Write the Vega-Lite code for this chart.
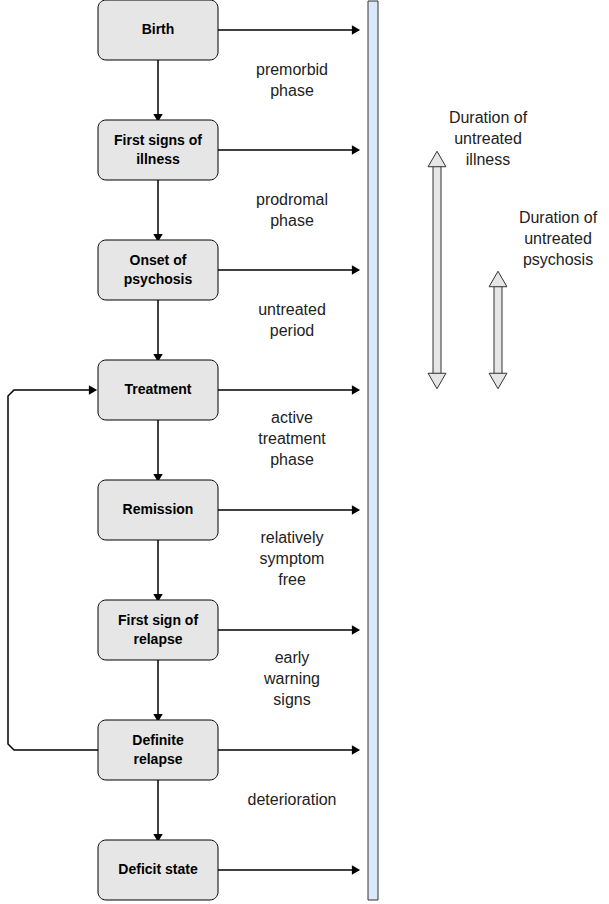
{
  "$schema": "https://vega.github.io/schema/vega-lite/v6.json",
  "width": 609,
  "height": 904,
  "padding": 0,
  "autosize": "none",
  "config": {"view": {"stroke": null}},
  "datasets": {
    "boxes": [
      {"label": "Birth", "cy": 30, "ty": 30},
      {"label": "First signs of\nillness", "cy": 150, "ty": 140.5},
      {"label": "Onset of\npsychosis", "cy": 270, "ty": 260.5},
      {"label": "Treatment", "cy": 390, "ty": 390},
      {"label": "Remission", "cy": 510, "ty": 510},
      {"label": "First sign of\nrelapse", "cy": 630, "ty": 620.5},
      {"label": "Definite\nrelapse", "cy": 750, "ty": 740.5},
      {"label": "Deficit state", "cy": 870, "ty": 870}
    ],
    "links": [
      {"x": 218, "y": 30, "x2": 356, "y2": 30, "dir": "right"},
      {"x": 218, "y": 150, "x2": 356, "y2": 150, "dir": "right"},
      {"x": 218, "y": 270, "x2": 356, "y2": 270, "dir": "right"},
      {"x": 218, "y": 390, "x2": 356, "y2": 390, "dir": "right"},
      {"x": 218, "y": 510, "x2": 356, "y2": 510, "dir": "right"},
      {"x": 218, "y": 630, "x2": 356, "y2": 630, "dir": "right"},
      {"x": 218, "y": 750, "x2": 356, "y2": 750, "dir": "right"},
      {"x": 218, "y": 870, "x2": 356, "y2": 870, "dir": "right"},
      {"x": 158, "y": 60, "x2": 158, "y2": 118, "dir": "down"},
      {"x": 158, "y": 180, "x2": 158, "y2": 238, "dir": "down"},
      {"x": 158, "y": 300, "x2": 158, "y2": 358, "dir": "down"},
      {"x": 158, "y": 420, "x2": 158, "y2": 478, "dir": "down"},
      {"x": 158, "y": 540, "x2": 158, "y2": 598, "dir": "down"},
      {"x": 158, "y": 660, "x2": 158, "y2": 718, "dir": "down"},
      {"x": 158, "y": 780, "x2": 158, "y2": 838, "dir": "down"}
    ],
    "loop": [
      {"x": 98, "y": 750, "o": 1},
      {"x": 14, "y": 750, "o": 2},
      {"x": 8, "y": 744, "o": 3},
      {"x": 8, "y": 396, "o": 4},
      {"x": 14, "y": 390, "o": 5},
      {"x": 92, "y": 390, "o": 6}
    ],
    "phases": [
      {"t": "premorbid\nphase", "y": 70},
      {"t": "prodromal\nphase", "y": 200},
      {"t": "untreated\nperiod", "y": 310},
      {"t": "active\ntreatment\nphase", "y": 418},
      {"t": "relatively\nsymptom\nfree", "y": 538},
      {"t": "early\nwarning\nsigns", "y": 658},
      {"t": "deterioration", "y": 800}
    ],
    "durations": [
      {"t": "Duration of\nuntreated\nillness", "x": 488, "y": 118},
      {"t": "Duration of\nuntreated\npsychosis", "x": 558, "y": 218}
    ],
    "shafts": [
      {"x": 433, "x2": 441, "y": 166, "y2": 374, "cx": 437, "top": 150, "bot": 390},
      {"x": 494, "x2": 502, "y": 286, "y2": 374, "cx": 498, "top": 270, "bot": 390}
    ]
  },
  "layer": [
    {
      "data": {"values": [{"x": 368, "x2": 378, "y": 1, "y2": 900}]},
      "mark": {"type": "rect", "fill": "#dae8fc", "stroke": "#333333", "strokeWidth": 1},
      "encoding": {
        "x": {"field": "x", "type": "quantitative", "scale": {"domain": [0, 609], "nice": false, "zero": false}, "axis": null},
        "x2": {"field": "x2"},
        "y": {"field": "y", "type": "quantitative", "scale": {"domain": [0, 904], "nice": false, "zero": false, "reverse": true}, "axis": null},
        "y2": {"field": "y2"}
      }
    },
    {
      "data": {"name": "links"},
      "mark": {"type": "rule", "color": "#000000", "strokeWidth": 1.5},
      "encoding": {
        "x": {"field": "x", "type": "quantitative"},
        "x2": {"field": "x2"},
        "y": {"field": "y", "type": "quantitative"},
        "y2": {"field": "y2"}
      }
    },
    {
      "data": {"name": "links"},
      "mark": {"type": "point", "filled": true, "color": "#000000", "size": 90, "opacity": 1},
      "encoding": {
        "x": {"field": "x2", "type": "quantitative"},
        "y": {"field": "y2", "type": "quantitative"},
        "shape": {"field": "dir", "type": "nominal", "scale": {"domain": ["right", "down"], "range": ["triangle-right", "triangle-down"]}, "legend": null}
      }
    },
    {
      "data": {"name": "loop"},
      "mark": {"type": "line", "color": "#000000", "strokeWidth": 1.5},
      "encoding": {
        "x": {"field": "x", "type": "quantitative"},
        "y": {"field": "y", "type": "quantitative"},
        "order": {"field": "o"}
      }
    },
    {
      "data": {"values": [{"x": 93, "y": 390}]},
      "mark": {"type": "point", "shape": "triangle-right", "filled": true, "color": "#000000", "size": 90, "opacity": 1},
      "encoding": {
        "x": {"field": "x", "type": "quantitative"},
        "y": {"field": "y", "type": "quantitative"}
      }
    },
    {
      "data": {"name": "boxes"},
      "transform": [{"calculate": "datum.cy - 30", "as": "y1"}, {"calculate": "datum.cy + 30", "as": "y2"}],
      "mark": {"type": "rect", "fill": "#e6e6e6", "stroke": "#000000", "strokeWidth": 1, "cornerRadius": 8, "x": 98, "x2": 218},
      "encoding": {
        "y": {"field": "y1", "type": "quantitative"},
        "y2": {"field": "y2"}
      }
    },
    {
      "data": {"name": "boxes"},
      "mark": {"type": "text", "font": "Liberation Sans", "fontWeight": "bold", "fontSize": 14, "lineBreak": "\n", "lineHeight": 19, "align": "center", "baseline": "middle", "color": "#000000", "x": 158},
      "encoding": {
        "y": {"field": "ty", "type": "quantitative"},
        "text": {"field": "label"}
      }
    },
    {
      "data": {"name": "phases"},
      "mark": {"type": "text", "font": "Liberation Sans", "fontSize": 16, "lineBreak": "\n", "lineHeight": 21, "align": "center", "baseline": "middle", "color": "#222222", "x": 292},
      "encoding": {
        "y": {"field": "y", "type": "quantitative"},
        "text": {"field": "t"}
      }
    },
    {
      "data": {"name": "durations"},
      "mark": {"type": "text", "font": "Liberation Sans", "fontSize": 16, "lineBreak": "\n", "lineHeight": 21, "align": "center", "baseline": "middle", "color": "#222222"},
      "encoding": {
        "x": {"field": "x", "type": "quantitative"},
        "y": {"field": "y", "type": "quantitative"},
        "text": {"field": "t"}
      }
    },
    {
      "data": {"name": "shafts"},
      "mark": {"type": "rect", "fill": "#e6e6e6", "stroke": "#333333", "strokeWidth": 1},
      "encoding": {
        "x": {"field": "x", "type": "quantitative"},
        "x2": {"field": "x2"},
        "y": {"field": "y", "type": "quantitative"},
        "y2": {"field": "y2"}
      }
    },
    {
      "data": {"name": "shafts"},
      "transform": [{"calculate": "datum.top + 9", "as": "hy"}],
      "mark": {"type": "point", "shape": "triangle-up", "filled": true, "fill": "#e6e6e6", "stroke": "#333333", "strokeWidth": 1, "size": 320, "opacity": 1},
      "encoding": {
        "x": {"field": "cx", "type": "quantitative"},
        "y": {"field": "hy", "type": "quantitative"}
      }
    },
    {
      "data": {"name": "shafts"},
      "transform": [{"calculate": "datum.bot - 9", "as": "hy"}],
      "mark": {"type": "point", "shape": "triangle-down", "filled": true, "fill": "#e6e6e6", "stroke": "#333333", "strokeWidth": 1, "size": 320, "opacity": 1},
      "encoding": {
        "x": {"field": "cx", "type": "quantitative"},
        "y": {"field": "hy", "type": "quantitative"}
      }
    }
  ]
}
